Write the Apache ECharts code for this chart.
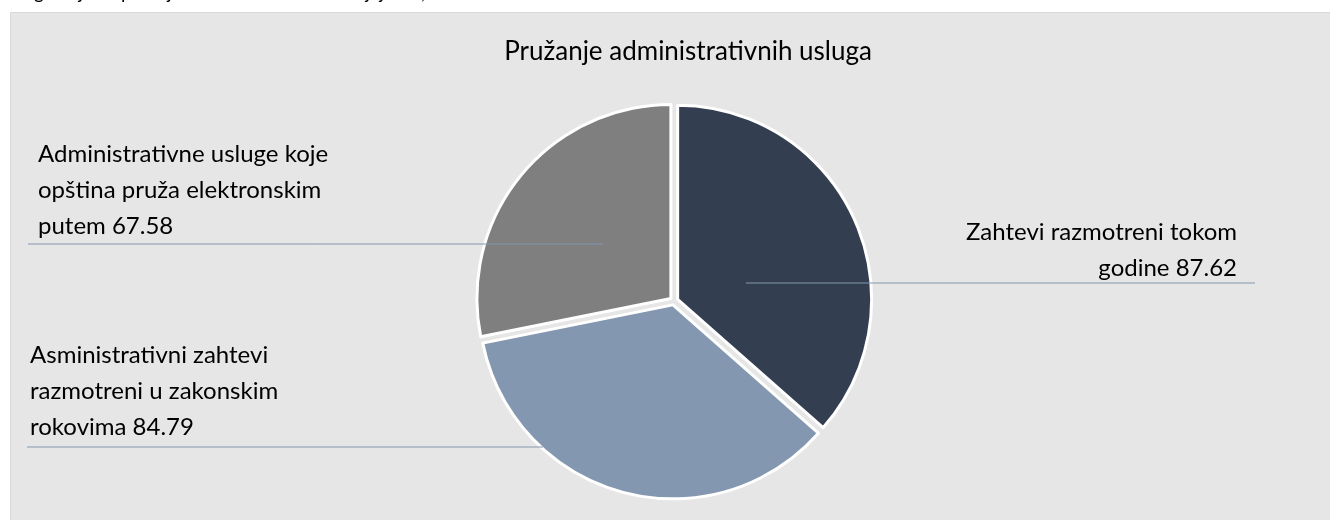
<!DOCTYPE html>
<html>
<head>
<meta charset="utf-8">
<title>Pružanje administrativnih usluga</title>
<script src="https://cdn.jsdelivr.net/npm/echarts@6/dist/echarts.min.js"></script>
<style>
  html, body { margin: 0; padding: 0; background: #fff; }
  #chart { width: 1330px; height: 520px; }
</style>
</head>
<body>
<div id="chart"></div>
<script>
// categories (line breaks as in the original labels)
const categories = [
  'Zahtevi razmotreni tokom\ngodine',
  'Asministrativni zahtevi\nrazmotreni u zakonskim\nrokovima',
  'Administrativne usluge koje\nopština pruža elektronskim\nputem'
]
const values = [87.62, 84.79, 67.58]
const colors = ['#333f50', '#8497b0', '#7f7f7f']

// where each label sits and where its leader line runs
const labelPlace = [
  { x: 1237, y: 214, align: 'right', line: [[746, 283], [1255, 283]] },
  { x: 30, y: 337, align: 'left', line: [[27, 447], [543, 447]] },
  { x: 38, y: 136, align: 'left', line: [[28, 244], [603, 244]] }
]

const font = 'Lato, "Open Sans", sans-serif'
const chart = echarts.init(document.getElementById('chart'))

// labels and leader lines, drawn above the slices like in the original
const labelGraphics = []
categories.forEach((name, i) => {
  const l = labelPlace[i]
  labelGraphics.push({
    type: 'polyline',
    z: 100,
    shape: { points: l.line },
    style: { stroke: '#8497b0', lineWidth: 1, fill: null }
  })
  labelGraphics.push({
    type: 'text',
    z: 100,
    x: l.x,
    y: l.y,
    style: {
      text: name + ' ' + values[i].toFixed(2),
      font: '24px ' + font,
      lineHeight: 36,
      align: l.align,
      verticalAlign: 'top',
      fill: '#000'
    }
  })
})

chart.setOption({
  backgroundColor: '#fff',
  animation: false,
  graphic: [
    {
      type: 'rect',
      z: -10,
      shape: { x: 10.5, y: 12.5, width: 1330, height: 520 },
      style: { fill: '#e7e6e6', stroke: '#d9d9d9', lineWidth: 1 }
    },
    {
      type: 'text',
      x: 0,
      y: -17,
      style: {
        text: 'usluge koje se pružaju elektronski na teritoriji je 67,58.',
        font: '19px ' + font,
        fill: '#000'
      }
    }
  ].concat(labelGraphics),
  title: {
    text: 'Pružanje administrativnih usluga',
    left: 683,
    textAlign: 'center',
    top: 34,
    textStyle: {
      fontFamily: font,
      fontSize: 26,
      fontWeight: 'normal',
      color: '#000'
    }
  },
  series: [
    {
      type: 'pie',
      center: [674, 301],
      radius: 194,
      startAngle: 90,
      clockwise: true,
      selectedMode: 'multiple',
      selectedOffset: 4,
      emphasis: { disabled: true },
      itemStyle: { borderColor: '#fff', borderWidth: 3 },
      select: {
        itemStyle: { borderColor: '#fff', borderWidth: 3 }
      },
      label: { show: false },
      labelLine: { show: false },
      data: categories.map((name, i) => ({
        name: name,
        value: values[i],
        selected: true,
        itemStyle: { color: colors[i] }
      }))
    }
  ]
})
</script>
</body>
</html>
